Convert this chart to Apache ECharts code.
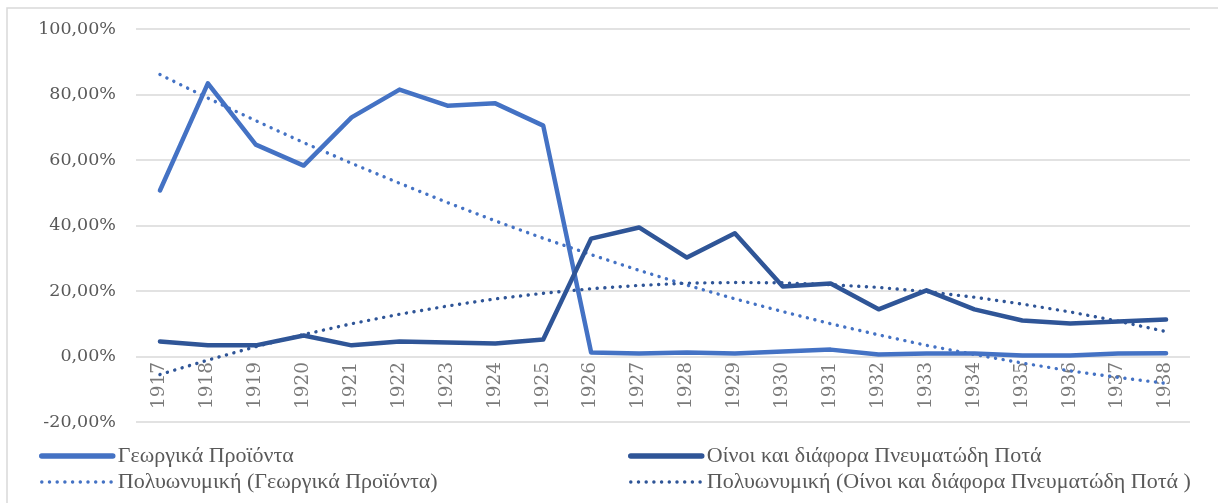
<!DOCTYPE html>
<html>
<head>
<meta charset="utf-8">
<script src="https://cdn.jsdelivr.net/npm/echarts@6/dist/echarts.min.js"></script>
<style>
  html, body { margin: 0; padding: 0; background: #fff; }
  #chart { width: 1218px; height: 503px; }
</style>
</head>
<body>
<div id="chart"></div>
<script>
// years on the category axis
const years = ['1917', '1918', '1919', '1920', '1921', '1922', '1923', '1924', '1925', '1926', '1927',
  '1928', '1929', '1930', '1931', '1932', '1933', '1934', '1935', '1936', '1937', '1938']

// shares in percent
const agri = [50.7, 83.4, 64.7, 58.3, 73.0, 81.5, 76.6, 77.3, 70.5, 1.2, 0.9,
  1.2, 0.9, 1.5, 2.1, 0.6, 0.9, 0.9, 0.3, 0.3, 0.9, 1.0]
const wine = [4.6, 3.4, 3.4, 6.4, 3.4, 4.6, 4.3, 4.0, 5.2, 36.0, 39.4,
  30.2, 37.6, 21.4, 22.3, 14.4, 20.2, 14.4, 11.0, 10.1, 10.7, 11.3]

// trend lines (polynomial)
const agriTrend = [86.1, 78.9, 72.0, 65.3, 59.0, 52.9, 47.0, 41.4, 36.1, 31.1, 26.3,
  21.8, 17.6, 13.7, 10.0, 6.6, 3.4, 0.6, -2.0, -4.4, -6.4, -8.2]
const wineTrend = [-5.5, -1.1, 3.0, 6.7, 10.0, 12.9, 15.4, 17.6, 19.3, 20.7, 21.7,
  22.4, 22.6, 22.5, 21.9, 21.1, 19.8, 18.1, 16.0, 13.6, 10.8, 7.6]

const names = ['Γεωργικά Προϊόντα', 'Οίνοι και διάφορα Πνευματώδη Ποτά',
  'Πολυωνυμική (Γεωργικά Προϊόντα)', 'Πολυωνυμική (Οίνοι και διάφορα Πνευματώδη Ποτά )']

const blue = '#4472c4'
const darkBlue = '#2f5597'
const serif = '"Liberation Serif", serif'
const numFont = '"DejaVu Serif", serif'

const chart = echarts.init(document.getElementById('chart'))

function solid(name, data, color) {
  return {
    name, type: 'line', data, symbol: 'none', z: 3,
    lineStyle: { color, width: 4.5, cap: 'round', join: 'round' },
    itemStyle: { color }
  }
}

function dotted(name, data, color) {
  return {
    name, type: 'line', data, symbol: 'none', z: 2,
    lineStyle: { color, width: 3.4, type: [0.1, 7.6], cap: 'round' },
    itemStyle: { color }
  }
}

// legend entries: no symbol, only the line
function entry(name, width) {
  return { name, itemStyle: { opacity: 0 }, lineStyle: { width } }
}

const legendText = { color: '#595959', fontSize: 22, fontFamily: serif }

chart.setOption({
  animation: false,
  graphic: [{
    type: 'rect',
    shape: { x: 7, y: 8, width: 1240, height: 520 },
    style: { fill: null, stroke: '#d9d9d9', lineWidth: 1.5 },
    silent: true
  }],
  grid: { left: 136, right: 28, top: 29, bottom: 81 },
  legend: [
    {
      data: [entry(names[0], 5.5), entry(names[2], 3.4)], orient: 'vertical', left: 34, top: 440,
      itemWidth: 71, itemHeight: 10, itemGap: 4, textStyle: legendText
    },
    {
      data: [entry(names[1], 5.5), entry(names[3], 3.4)], orient: 'vertical', left: 623, top: 440,
      itemWidth: 71, itemHeight: 10, itemGap: 4, textStyle: legendText
    }
  ],
  xAxis: {
    type: 'category',
    data: years,
    axisLine: { show: false },
    axisTick: { show: false },
    axisLabel: { show: false }
  },
  yAxis: {
    type: 'value',
    min: -20, max: 100, interval: 20,
    axisLine: { show: false },
    axisTick: { show: false },
    axisLabel: {
      color: '#595959', fontSize: 17.5, fontFamily: numFont, margin: 20,
      formatter: v => v.toFixed(2).replace('.', ',') + '%'
    },
    splitLine: { lineStyle: { color: '#d9d9d9', width: 1.5 } }
  },
  series: [
    solid(names[0], agri, blue),
    solid(names[1], wine, darkBlue),
    dotted(names[2], agriTrend, blue),
    dotted(names[3], wineTrend, darkBlue),
    {
      // year labels hanging under the zero line
      name: 'years', type: 'scatter', silent: true, z: 1,
      symbolSize: 1, itemStyle: { color: 'rgba(0,0,0,0)' },
      data: years.map(y => [y, 0]),
      label: {
        show: true, formatter: p => p.value[0],
        position: [0, 6], rotate: 90, align: 'right', verticalAlign: 'middle',
        color: '#595959', fontSize: 18.5, fontFamily: numFont
      }
    }
  ]
})
</script>
</body>
</html>
